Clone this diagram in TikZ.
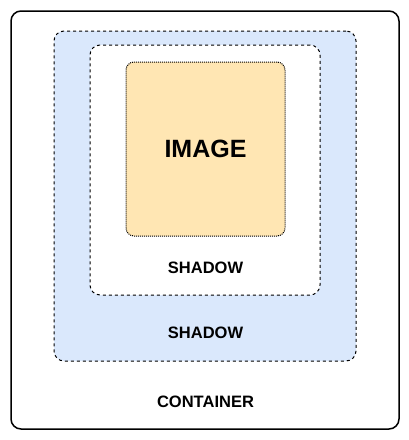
\documentclass[tikz,border=0pt]{standalone}
\usepackage{fontspec}
\setmainfont{Liberation Sans}
\usetikzlibrary{positioning}
\definecolor{shadowblue}{HTML}{DAE8FC}
\definecolor{imageorange}{HTML}{FFE6B3}
\tikzset{
  layerbox/.style={draw, inner sep=0pt, rounded corners=10pt, line width=1pt, dash pattern=on 3pt off 3pt},
  layertext/.style={font=\bfseries\fontsize{16.5}{19}\selectfont}
}
\begin{document}
\begin{tikzpicture}[x=1pt, y=-1pt]
  \useasboundingbox (0,0) rectangle (409,440);
  \node (container) [draw, line width=1.5pt, rounded corners=10pt, minimum width=388pt, minimum height=418pt] at (205,220) {};
  \node (outer) [layerbox, fill=shadowblue, minimum width=302pt, minimum height=330pt] at (205,196) {};
  \node (inner) [layerbox, fill=white, minimum width=230pt, minimum height=250pt] at (205,170) {};
  \node (image) [draw, fill=imageorange, inner sep=0pt, rounded corners=8pt, line width=1pt, dash pattern=on 1pt off 1pt, minimum width=159pt, minimum height=174pt, font=\bfseries\fontsize{25}{29}\selectfont] at (205.5,149) {IMAGE};
  \node (innertext) [layertext, below of=image, node distance=119pt] {SHADOW};
  \node (outertext) [layertext, below of=innertext, node distance=65pt] {SHADOW};
  \node (containertext) [layertext, below of=outertext, node distance=69pt] {CONTAINER};
\end{tikzpicture}
\end{document}
